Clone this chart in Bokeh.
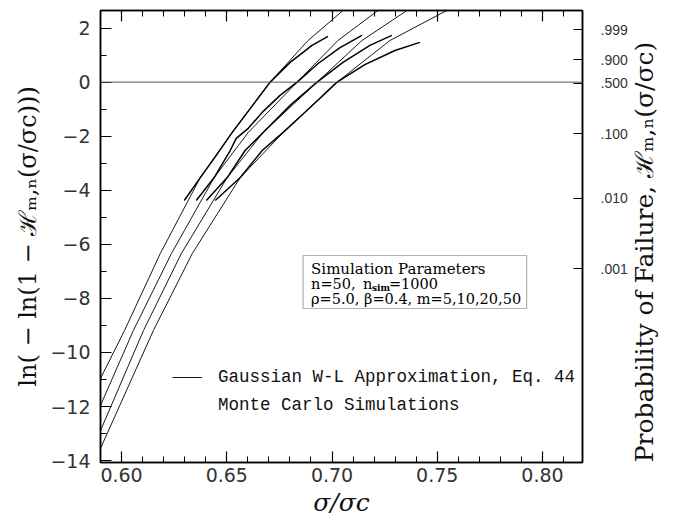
import math
from bokeh.plotting import figure
from bokeh.models import (LinearAxis, FixedTicker, Span, BoxAnnotation, Label,
                          Legend, LegendItem, Range1d)
from bokeh.embed import file_html
from bokeh.resources import INLINE

# ---------------- data ----------------
x_major_ticks = [0.60, 0.65, 0.70, 0.75, 0.80]
x_minor_ticks = [0.59, 0.61, 0.62, 0.63, 0.64, 0.66, 0.67, 0.68, 0.69,
                 0.71, 0.72, 0.73, 0.74, 0.76, 0.77, 0.78, 0.79, 0.81]
y_major_ticks = [2, 0, -2, -4, -6, -8, -10, -12, -14]
y_minor_ticks = [1, -1, -3, -5, -7, -9, -11, -13]
prob_labels = [".999", ".900", ".500", ".100", ".010", ".001"]
prob_tick_pos = [1.93, 0.83, -0.05, -1.9, -4.3, -6.9]

# Gaussian weakest-link approximation, Eq. 44 (thin smooth curves)
gauss_a_x = [0.5900, 0.6014, 0.6184, 0.6374, 0.6526, 0.6706, 0.6886, 0.7052]
gauss_a_y = [-10.96, -9.19, -6.34, -3.53, -1.86, 0.00, 1.54, 2.65]
gauss_b_x = [0.5900, 0.6056, 0.6237, 0.6440, 0.6602, 0.6834, 0.7028, 0.7218]
gauss_b_y = [-11.96, -9.19, -6.34, -3.53, -1.86, 0.00, 1.54, 2.65]
gauss_c_x = [0.5900, 0.6104, 0.6284, 0.6502, 0.6673, 0.6929, 0.7142, 0.7356]
gauss_c_y = [-12.89, -9.19, -6.34, -3.53, -1.86, 0.00, 1.54, 2.65]
gauss_d_x = [0.5900, 0.6151, 0.6336, 0.6564, 0.6768, 0.7024, 0.7275, 0.7545]
gauss_d_y = [-13.55, -9.19, -6.34, -3.53, -1.86, 0.00, 1.54, 2.65]

# Monte Carlo simulations (heavier, slightly jagged curves)
mc_a_x = [0.6298, 0.6374, 0.6440, 0.6526, 0.6611, 0.6706, 0.6801, 0.6905, 0.6981]
mc_a_y = [-4.38, -3.53, -2.82, -1.86, -0.98, 0.00, 0.73, 1.36, 1.69]
mc_b_x = [0.6355, 0.6440, 0.6516, 0.6545, 0.6602, 0.6668, 0.6753, 0.6834, 0.6934, 0.7038, 0.7142]
mc_b_y = [-4.38, -3.53, -2.53, -2.08, -1.71, -1.12, -0.49, 0.00, 0.69, 1.28, 1.73]
mc_c_x = [0.6403, 0.6502, 0.6587, 0.6673, 0.6801, 0.6929, 0.7052, 0.7180, 0.7284]
mc_c_y = [-4.38, -3.53, -2.53, -1.86, -0.86, 0.00, 0.73, 1.36, 1.73]
mc_d_x = [0.6445, 0.6564, 0.6668, 0.6768, 0.6896, 0.7024, 0.7156, 0.7299, 0.7417]
mc_d_y = [-4.38, -3.53, -2.53, -1.86, -0.94, 0.00, 0.65, 1.17, 1.47]

right_title = "Probability of Failure, \u210b\u2098,\u2099(\u03c3/\u03c3c)"

# ---------------- figure ----------------
X0, X1 = 0.590, 0.819
Y0, Y1 = -14.07, 2.65
FL, FR, FT, FB = 100, 583, 10, 462   # frame edges in pixels

def X(px):
    return X0 + (px - FL) * (X1 - X0) / (FR - FL)

def Y(py):
    return Y1 - (py - FT) * (Y1 - Y0) / (FB - FT)

p = figure(width=676, height=523, x_range=Range1d(X0, X1), y_range=Range1d(Y0, Y1),
           output_backend="svg", toolbar_location=None,
           min_border_left=FL, min_border_right=676 - FR,
           min_border_top=FT, min_border_bottom=523 - FB)
p.grid.visible = False
p.outline_line_color = "black"
p.outline_line_width = 1.5
p.background_fill_color = "white"
p.border_fill_color = "white"

def style_axis(ax, size="19px", font="DejaVu Sans", standoff=7):
    ax.axis_line_color = "black"
    ax.axis_line_width = 1.5
    ax.major_tick_in = 11
    ax.major_tick_out = 0
    ax.minor_tick_in = 6
    ax.minor_tick_out = 0
    ax.major_tick_line_color = "black"
    ax.minor_tick_line_color = "black"
    ax.major_tick_line_width = 1.2
    ax.minor_tick_line_width = 1.0
    ax.major_label_text_font = font
    ax.major_label_text_font_size = size
    ax.major_label_text_color = "#333333"
    ax.major_label_standoff = standoff
    ax.axis_label_text_font = "DejaVu Serif"
    ax.axis_label_text_font_style = "normal"
    ax.axis_label_text_color = "#111111"

xt = FixedTicker(ticks=x_major_ticks, minor_ticks=x_minor_ticks)
yt = FixedTicker(ticks=y_major_ticks, minor_ticks=y_minor_ticks)

xa = p.xaxis[0]
xa.ticker = xt
style_axis(xa, standoff=5)
xa.major_label_overrides = {v: f"{v:.2f}" for v in x_major_ticks}
xa.axis_label = "\u03c3/\u03c3c"
xa.axis_label_text_font_size = "25px"
xa.axis_label_text_font_style = "italic"
xa.axis_label_standoff = 3

ya = p.yaxis[0]
ya.ticker = yt
style_axis(ya, standoff=10)
ya.major_label_overrides = {float(v): (f"\u2212{abs(v)}" if v < 0 else str(v)) for v in y_major_ticks}
ya.axis_label = "ln( \u2212 ln(1 \u2212 \u210b\u2098,\u2099(\u03c3/\u03c3c)))"
ya.axis_label_text_font_size = "24px"
ya.axis_label_standoff = 5

top = LinearAxis(ticker=xt)
style_axis(top)
top.major_label_overrides = {v: "" for v in x_major_ticks}
top.major_label_text_font_size = "1px"
top.major_label_standoff = 0
p.add_layout(top, "above")

right = LinearAxis(ticker=FixedTicker(ticks=prob_tick_pos, minor_ticks=[]))
style_axis(right, size="14px", font="Liberation Sans", standoff=18)
right.major_tick_in = 9
right.major_label_overrides = {float(v): t for v, t in zip(prob_tick_pos, prob_labels)}
p.add_layout(right, "right")

# right-hand title, reading upward from the bottom of the frame: drawn as the
# single (rotated) label of an otherwise invisible axis
title_pos = Y0 + 0.01
rtitle = LinearAxis(ticker=FixedTicker(ticks=[title_pos], minor_ticks=[]))
rtitle.axis_line_alpha = 0
rtitle.major_tick_line_alpha = 0
rtitle.minor_tick_line_alpha = 0
rtitle.major_tick_in = 0
rtitle.major_tick_out = 0
rtitle.minor_tick_in = 0
rtitle.minor_tick_out = 0
rtitle.major_label_overrides = {title_pos: right_title}
rtitle.major_label_orientation = math.pi / 2
rtitle.major_label_text_font = "DejaVu Serif"
rtitle.major_label_text_font_size = "25px"
rtitle.major_label_text_color = "#111111"
rtitle.major_label_standoff = 14
p.add_layout(rtitle, "right")

# zero reference line
p.add_layout(Span(location=0, dimension="width", line_color="#555555", line_width=1))

# curves
g_renderers = []
for gx, gy in [(gauss_a_x, gauss_a_y), (gauss_b_x, gauss_b_y),
               (gauss_c_x, gauss_c_y), (gauss_d_x, gauss_d_y)]:
    g_renderers.append(p.line(gx, gy, line_color="#1a1a1a", line_width=1.0))
for mx, my in [(mc_a_x, mc_a_y), (mc_b_x, mc_b_y), (mc_c_x, mc_c_y), (mc_d_x, mc_d_y)]:
    p.line(mx, my, line_color="black", line_width=1.5)
blank = p.line([], [], line_alpha=0)

legend = Legend(items=[LegendItem(label="Gaussian W-L Approximation, Eq. 44", renderers=[g_renderers[0]]),
                       LegendItem(label="Monte Carlo Simulations", renderers=[blank])],
                location=(72, 47), label_text_font="Liberation Mono",
                label_text_font_size="17.5px", label_text_color="#111111",
                glyph_width=30, glyph_height=20, label_height=20, label_standoff=16,
                spacing=8, padding=0, margin=0, border_line_alpha=0,
                background_fill_alpha=0)
p.add_layout(legend)

# simulation parameter box
p.add_layout(BoxAnnotation(left=X(303), right=X(527), top=Y(255), bottom=Y(308),
                           fill_color="white", fill_alpha=1.0,
                           line_color="black", line_width=1.2))

def lab(px, py, text, size="14.5px", font="DejaVu Serif", style="normal",
        align="left", baseline="middle", color="#000000"):
    p.add_layout(Label(x=X(px), y=Y(py), text=text, text_font=font,
                       text_font_size=size, text_font_style=style,
                       text_align=align, text_baseline=baseline,
                       text_color=color))

lab(311, 268, "Simulation Parameters", size="15px")
lab(311, 283, "n=50,")
lab(363, 283, "n")
lab(372, 287, "sim", size="9px", style="bold")
lab(389, 283, "=1000")
lab(311, 298, "\u03c1=5.0, \u03b2=0.4, m=5,10,20,50")

open("out.html", "w").write(file_html(p, INLINE))
